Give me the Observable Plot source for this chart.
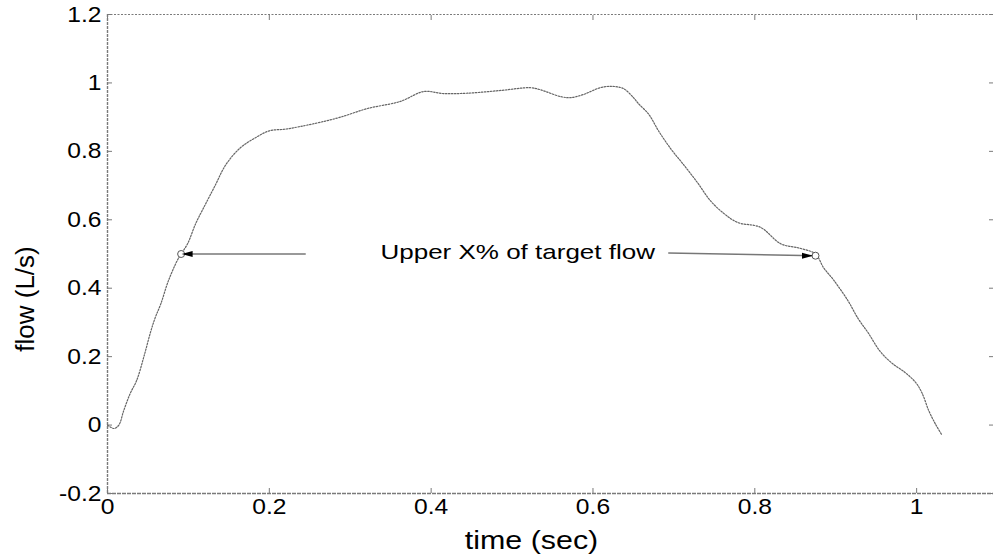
<!DOCTYPE html>
<html><head><meta charset="utf-8">
<script src="https://cdn.jsdelivr.net/npm/d3@7"></script>
<script src="https://cdn.jsdelivr.net/npm/@observablehq/plot@0.6"></script>
<style>
body{margin:0;background:#fff}
#chart svg{font-family:"Liberation Sans",Arial,sans-serif;background:#fff;overflow:visible}
</style>
</head><body><div id="chart"></div><script>
// ---- data ----
const time = [0,0.008,0.014,0.02,0.028,0.036,0.045,0.053,0.059,0.066,0.075,0.086,0.091,0.099,0.109,0.119,0.133,0.146,0.164,0.183,0.2,0.22,0.239,0.263,0.288,0.321,0.362,0.391,0.415,0.445,0.486,0.523,0.535,0.56,0.572,0.588,0.609,0.624,0.638,0.65,0.656,0.669,0.681,0.696,0.711,0.729,0.745,0.762,0.779,0.807,0.832,0.857,0.875,0.885,0.898,0.915,0.928,0.94,0.955,0.97,0.985,0.999,1.007,1.015,1.023,1.031];
const flow = [0,-0.01,0,0.042,0.092,0.13,0.2,0.27,0.314,0.355,0.42,0.48,0.5,0.53,0.589,0.636,0.7,0.76,0.81,0.84,0.86,0.865,0.873,0.885,0.9,0.925,0.946,0.975,0.969,0.97,0.978,0.986,0.98,0.96,0.957,0.966,0.986,0.99,0.983,0.957,0.94,0.908,0.86,0.808,0.764,0.709,0.656,0.618,0.592,0.578,0.53,0.516,0.5,0.46,0.422,0.364,0.31,0.27,0.215,0.18,0.155,0.124,0.092,0.042,0.004,-0.028];
const xTicks = [0,0.2,0.4,0.6,0.8,1];
const xTickLabels = ["0","0.2","0.4","0.6","0.8","1"];
const yTicks = [-0.2,0,0.2,0.4,0.6,0.8,1,1.2];
const yTickLabels = ["-0.2","0","0.2","0.4","0.6","0.8","1","1.2"];
const xDomain = [0,1.095];
const yDomain = [-0.2,1.2];
const xLabel = "time (sec)";
const yLabel = "flow (L/s)";
// annotation
const noteText = ["Upper X% of target flow"];
const noteTime = [0.507];
const noteFlow = [0.5];
const arrowFromTime = [0.245, 0.693];
const arrowFromFlow = [0.5, 0.503];
const markTime = [0.091, 0.875];
const markFlow = [0.5, 0.495];

const curve = time.map((t,i)=>({t, v: flow[i]}));
const arrows = arrowFromTime.map((t,i)=>({x1:t, y1:arrowFromFlow[i], x2:markTime[i], y2:markFlow[i]}));
const marks = markTime.map((t,i)=>({t, v:markFlow[i]}));
const notes = noteText.map((s,i)=>({s, t:noteTime[i], v:noteFlow[i]}));

const leftTri = {draw(ctx,size){const s=Math.sqrt(size/Math.PI);ctx.moveTo(-s,0);ctx.lineTo(s,-0.55*s);ctx.lineTo(s,0.55*s);ctx.closePath();}};
const rightTri = {draw(ctx,size){const s=Math.sqrt(size/Math.PI);ctx.moveTo(s,0);ctx.lineTo(-s,-0.55*s);ctx.lineTo(-s,0.55*s);ctx.closePath();}};

const axisGray = "#7a7a7a";
const chart = Plot.plot({
  width: 993, height: 560,
  marginLeft: 107, marginRight: 0, marginTop: 14, marginBottom: 67,
  x: {domain: xDomain},
  y: {domain: yDomain},
  marks: [
    // frame lines
    Plot.ruleY([yDomain[1]], {stroke: axisGray, strokeDasharray: "2 1.5", strokeWidth: 1.2}),
    Plot.ruleY([yDomain[0]], {stroke: axisGray, strokeDasharray: "4 1", strokeWidth: 1.4}),
    Plot.ruleX([xDomain[0]], {stroke: axisGray, strokeDasharray: "3 1", strokeWidth: 1.4}),
    // inward ticks
    Plot.axisX(xTicks, {anchor: "bottom", tickSize: -5, tickFormat: () => "", stroke: axisGray}),
    Plot.axisX(xTicks, {anchor: "top", tickSize: -5, tickFormat: () => "", stroke: axisGray}),
    Plot.axisY(yTicks, {anchor: "left", tickSize: -5, tickFormat: () => "", stroke: axisGray}),
    Plot.axisY(yTicks, {anchor: "right", tickSize: -5, tickFormat: () => "", stroke: axisGray}),
    // tick labels
    Plot.axisX(xTicks, {anchor: "bottom", tickSize: 0, tickPadding: 5, tickFormat: (d,i) => xTickLabels[i], fontSize: 22, fill: "#000", label: null}),
    Plot.axisY(yTicks, {anchor: "left", tickSize: 0, tickPadding: 6, tickFormat: (d,i) => yTickLabels[i], fontSize: 22, fill: "#000", label: null}),
    // axis titles
    Plot.text([xLabel], {frameAnchor: "bottom", dx: -19, dy: 47, fontSize: 26, fill: "#000", lineAnchor: "middle", textAnchor: "middle"}),
    Plot.text([yLabel], {frameAnchor: "left", rotate: -90, dx: -82, dy: 45, fontSize: 26, fill: "#000", lineAnchor: "middle", textAnchor: "middle"}),
    // data line
    Plot.line(curve, {x: "t", y: "v", curve: "catmull-rom", stroke: "#666", strokeWidth: 1.2, strokeDasharray: "1.5 1.5"}),
    // annotation
    Plot.link(arrows, {x1: "x1", y1: "y1", x2: "x2", y2: "y2", stroke: "#777", strokeWidth: 1.4}),
    Plot.dot(marks, {x: "t", y: "v", r: 3.5, stroke: "#555", fill: "white", strokeWidth: 1}),
    Plot.dot([marks[0]], {x: "t", y: "v", symbol: leftTri, r: 5.5, fill: "#000", stroke: "none", dx: 6}),
    Plot.dot([marks[1]], {x: "t", y: "v", symbol: rightTri, r: 5.5, fill: "#000", stroke: "none", dx: -8}),
    Plot.text(notes, {x: "t", y: "v", text: "s", fontSize: 20, fill: "#000", dy: -1})
  ]
});
// the scanned original has horizontally stretched lettering
function stretch(el, k){
  const tr = el.getAttribute("transform");
  if (tr) el.setAttribute("transform", tr + ` scale(${k},1)`);
}
d3.select(chart).selectAll("text").each(function(){
  const s = this.textContent;
  if (s === noteText[0]) stretch(this, 1.3);
  else if (s === xLabel) stretch(this, 1.17);
  else if (xTickLabels.includes(s) || yTickLabels.includes(s)) stretch(this, 1.12);
});
document.getElementById("chart").append(chart);
</script></body></html>
